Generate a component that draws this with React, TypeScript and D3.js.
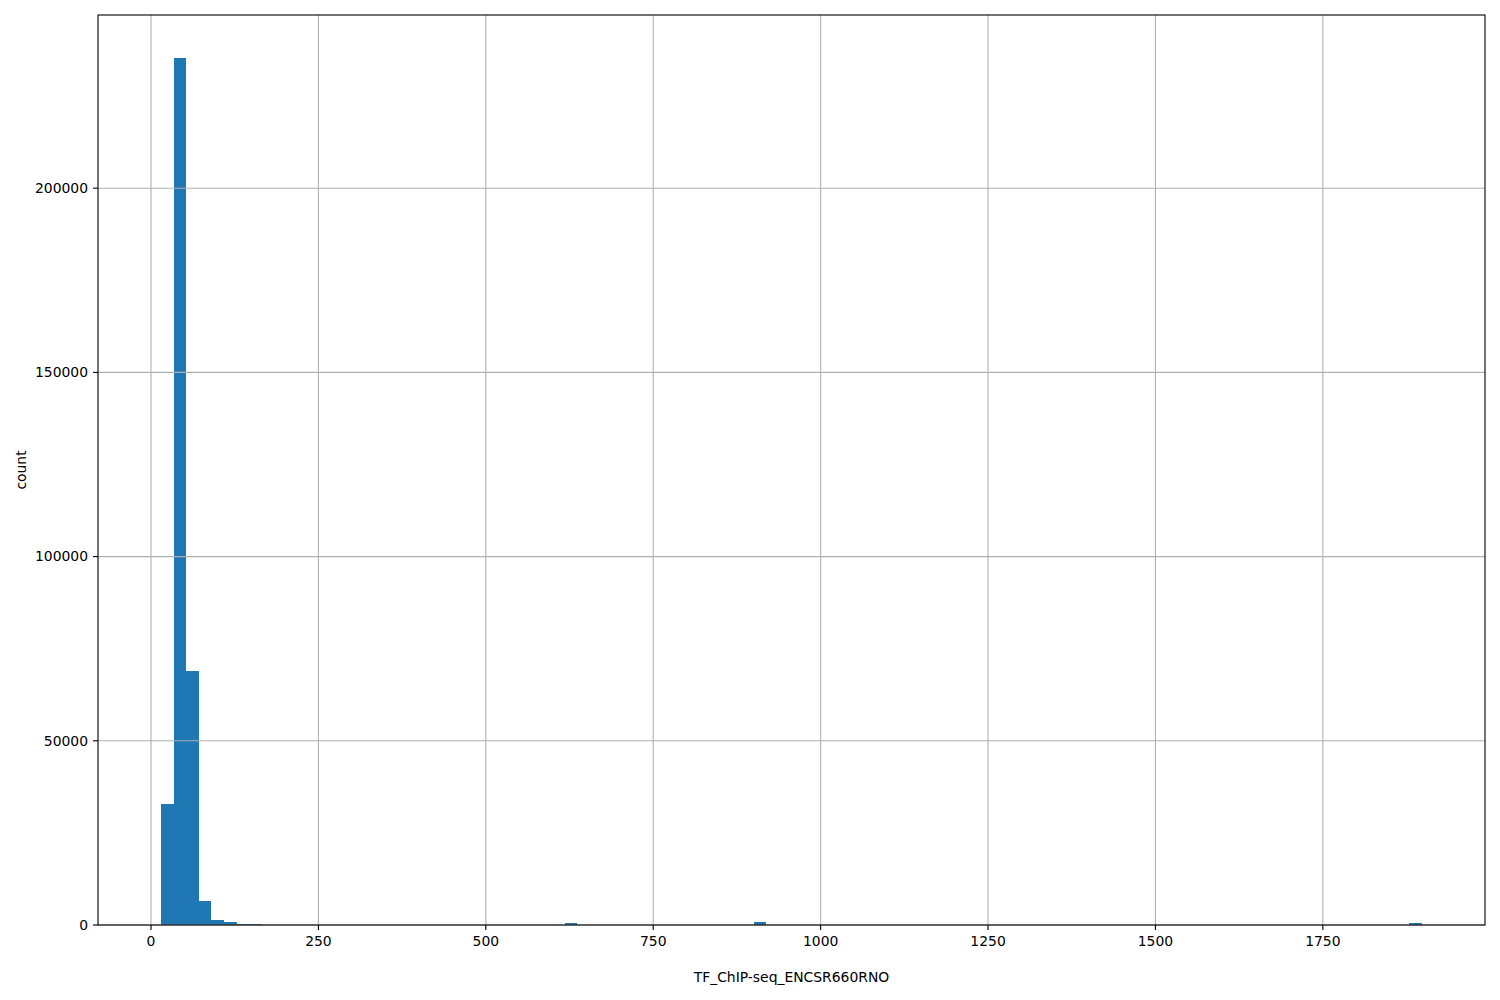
import React, { useEffect, useRef } from 'react';
import * as d3 from 'd3';

// histogram: 100 equal bins between dataMin and dataMax
const dataMin = 15;
const dataMax = 1898;
const binTotal = 100;

// only the non-empty bins (index into the 100 bins, count)
const binIndex = [0, 1, 2, 3, 4, 5, 6, 7, 32, 47, 99];
const binCount = [32800, 235250, 68900, 6500, 1450, 750, 300, 250, 500, 850, 500];

const xTicks = [0, 250, 500, 750, 1000, 1250, 1500, 1750];
const yTicks = [0, 50000, 100000, 150000, 200000];

const xLabel = 'TF_ChIP-seq_ENCSR660RNO';
const yLabel = 'count';

const App: React.FC = () => {
  const svgRef = useRef<SVGSVGElement | null>(null);

  useEffect(() => {
    if (!svgRef.current) return;
    const width = 1500;
    const height = 1000;
    const margin = { top: 15, right: 15, bottom: 75, left: 98 };
    const innerW = width - margin.left - margin.right;
    const innerH = height - margin.top - margin.bottom;
    const font = 'DejaVu Sans, sans-serif';

    const svg = d3.select(svgRef.current);
    svg.selectAll('*').remove();

    const binWidth = (dataMax - dataMin) / binTotal;
    const range = dataMax - dataMin;
    const x = d3.scaleLinear()
      .domain([dataMin - 0.05 * range, dataMax + 0.05 * range])
      .range([0, innerW]);
    const maxCount = d3.max(binCount) ?? 1;
    const y = d3.scaleLinear()
      .domain([0, maxCount * 1.05])
      .range([innerH, 0]);

    const g = svg.append('g')
      .attr('transform', `translate(${margin.left},${margin.top})`);

    // bars
    g.selectAll('rect.bar')
      .data(binIndex.map((b, i) => ({ b, c: binCount[i] })))
      .enter().append('rect')
      .attr('class', 'bar')
      .attr('x', d => x(dataMin + d.b * binWidth))
      .attr('width', d => x(dataMin + (d.b + 1) * binWidth) - x(dataMin + d.b * binWidth))
      .attr('y', d => y(d.c))
      .attr('height', d => innerH - y(d.c))
      .attr('fill', '#1f77b4')
      .attr('shape-rendering', 'crispEdges');

    // grid (matplotlib draws it above the patches)
    g.selectAll('line.gx')
      .data(xTicks)
      .enter().append('line')
      .attr('x1', d => x(d)).attr('x2', d => x(d))
      .attr('y1', 0).attr('y2', innerH)
      .attr('stroke', '#b0b0b0').attr('stroke-width', 1.1);
    g.selectAll('line.gy')
      .data(yTicks)
      .enter().append('line')
      .attr('x1', 0).attr('x2', innerW)
      .attr('y1', d => y(d)).attr('y2', d => y(d))
      .attr('stroke', '#b0b0b0').attr('stroke-width', 1.1);

    // spines
    g.append('rect')
      .attr('x', 0).attr('y', 0)
      .attr('width', innerW).attr('height', innerH)
      .attr('fill', 'none')
      .attr('stroke', 'black')
      .attr('stroke-width', 1.1);

    // x ticks
    const xt = g.selectAll('g.xt')
      .data(xTicks)
      .enter().append('g')
      .attr('transform', d => `translate(${x(d)},${innerH})`);
    xt.append('line').attr('y2', 5).attr('stroke', 'black').attr('stroke-width', 1.1);
    xt.append('text')
      .attr('y', 21)
      .attr('text-anchor', 'middle')
      .attr('font-family', font)
      .attr('font-size', 13.9)
      .text(d => String(d));

    // y ticks
    const yt = g.selectAll('g.yt')
      .data(yTicks)
      .enter().append('g')
      .attr('transform', d => `translate(0,${y(d)})`);
    yt.append('line').attr('x2', -5).attr('stroke', 'black').attr('stroke-width', 1.1);
    yt.append('text')
      .attr('x', -10)
      .attr('dy', '0.35em')
      .attr('text-anchor', 'end')
      .attr('font-family', font)
      .attr('font-size', 13.9)
      .text(d => String(d));

    // axis labels
    svg.append('text')
      .attr('x', margin.left + innerW / 2)
      .attr('y', 982)
      .attr('text-anchor', 'middle')
      .attr('font-family', font)
      .attr('font-size', 13.9)
      .text(xLabel);
    svg.append('text')
      .attr('transform', `translate(26,${margin.top + innerH / 2}) rotate(-90)`)
      .attr('text-anchor', 'middle')
      .attr('font-family', font)
      .attr('font-size', 13.9)
      .text(yLabel);
  }, []);

  return (
    <svg
      ref={svgRef}
      width={1500}
      height={1000}
      style={{ position: 'absolute', left: 0, top: 0, background: 'white' }}
    />
  );
};

export default App;
